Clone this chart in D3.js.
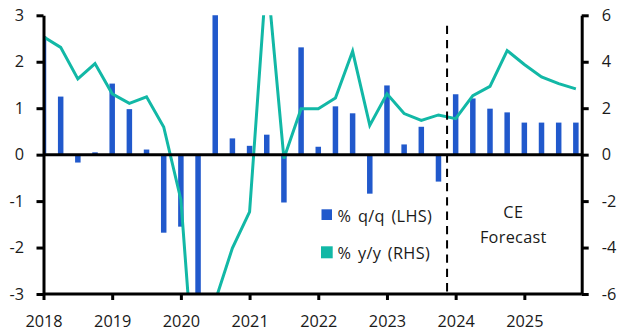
<!DOCTYPE html>
<html>
<head>
<meta charset="utf-8">
<script src="https://cdn.jsdelivr.net/npm/d3@7"></script>
<style>
  html, body { margin: 0; padding: 0; background: #fff; }
  svg { display: block; font-family: "Open Sans", "Noto Sans", sans-serif; }
</style>
</head>
<body>
<svg id="chart" width="623" height="336"></svg>
<script>
// ---- data ----
const quarters = [
  "2018Q1","2018Q2","2018Q3","2018Q4","2019Q1","2019Q2","2019Q3","2019Q4",
  "2020Q1","2020Q2","2020Q3","2020Q4","2021Q1","2021Q2","2021Q3","2021Q4",
  "2022Q1","2022Q2","2022Q3","2022Q4","2023Q1","2023Q2","2023Q3","2023Q4",
  "2024Q1","2024Q2","2024Q3","2024Q4","2025Q1","2025Q2","2025Q3","2025Q4"
];
const qoq = [2.55,1.25,-0.17,0.05,1.53,0.98,0.11,-1.68,
  -1.55,-7.9,5.3,0.35,0.19,0.43,-1.03,2.31,
  0.17,1.04,0.89,-0.84,1.49,0.22,0.60,-0.58,
  1.30,1.21,0.99,0.91,0.69,0.69,0.69,0.69];
const yoy = [5.07,4.62,3.26,3.92,2.62,2.21,2.49,1.19,
  -1.94,-11.8,-6.3,-4.02,-2.46,7.9,-0.17,1.98,
  1.98,2.44,4.45,1.26,2.62,1.77,1.47,1.71,
  1.55,2.54,2.94,4.48,3.88,3.35,3.06,2.83];
const yearTicks = [2018,2019,2020,2021,2022,2023,2024,2025];
const leftTicks = [-3,-2,-1,0,1,2,3];
const rightTicks = [-6,-4,-2,0,2,4,6];
const forecastStart = 2023.875;
const seriesNames = ["% q/q (LHS)", "% y/y (RHS)"];
const forecastLabel = ["CE", "Forecast"];

const blue = "#2159cc", green = "#12b8a6";
const FONT = "\"Open Sans\", \"Noto Sans\", sans-serif";
const FS = "16.3px";

// ---- layout ----
const L = 43.5, R = 581.7, T = 15.3, B = 294;
const svg = d3.select("#chart");
const qNum = s => +s.slice(0,4) + (+s.slice(5) - 1) / 4;
const data = quarters.map((q, i) => ({ t: qNum(q), qq: qoq[i], yy: yoy[i] }));

const x = d3.scaleLinear().domain([2018, 2025.835]).range([L, R]);
const yL = d3.scaleLinear().domain([-3, 3]).range([B, T]);
const yR = d3.scaleLinear().domain([-6, 6]).range([B, T]);

svg.append("defs").append("clipPath").attr("id", "plot")
  .append("rect").attr("x", L).attr("y", T).attr("width", R - L).attr("height", B - T);

const g = svg.append("g").attr("clip-path", "url(#plot)");
const bw = (x(0.25) - x(0)) * 0.32;

g.selectAll("rect.bar").data(data).enter().append("rect")
  .attr("class", "bar")
  .attr("x", d => x(d.t) - bw / 2)
  .attr("width", bw)
  .attr("y", d => yL(Math.max(0, d.qq)))
  .attr("height", d => Math.abs(yL(d.qq) - yL(0)))
  .attr("fill", blue);

g.append("path").datum(data)
  .attr("fill", "none").attr("stroke", green).attr("stroke-width", 3)
  .attr("stroke-linejoin", "miter")
  .attr("d", d3.line().x(d => x(d.t)).y(d => yR(d.yy)));

// zero line
svg.append("line").attr("x1", L).attr("x2", R).attr("y1", yL(0)).attr("y2", yL(0))
  .attr("stroke", "#000").attr("stroke-width", 3);

// forecast divider
svg.append("line").attr("x1", x(forecastStart)).attr("x2", x(forecastStart))
  .attr("y1", 25.7).attr("y2", B)
  .attr("stroke", "#000").attr("stroke-width", 2).attr("stroke-dasharray", "8.3,6");

// axes
function styleAxis(sel) {
  sel.selectAll("path.domain").attr("stroke", "#000").attr("stroke-width", 3);
  sel.selectAll(".tick line").attr("stroke", "#000").attr("stroke-width", 3);
  sel.selectAll(".tick text").attr("fill", "#1a1a1a").style("font-size", FS)
    .style("font-family", FONT);
}
const ax = svg.append("g").attr("transform", `translate(0,${B})`)
  .call(d3.axisBottom(x).tickValues(yearTicks).tickFormat(d3.format("d"))
    .tickSize(6).tickSizeOuter(0).tickPadding(15));
styleAxis(ax);
ax.select("path.domain").attr("d", `M${L},0H${R}`);

const axl = svg.append("g").attr("transform", `translate(${L},0)`)
  .call(d3.axisLeft(yL).tickValues(leftTicks).tickFormat(d => String(d))
    .tickSize(7).tickSizeOuter(0).tickPadding(12.5));
styleAxis(axl);

const axr = svg.append("g").attr("transform", `translate(${R},0)`)
  .call(d3.axisRight(yR).tickValues(rightTicks).tickFormat(d => String(d))
    .tickSize(7).tickSizeOuter(0).tickPadding(13));
styleAxis(axr);

// legend
const leg = svg.append("g");
leg.append("rect").attr("x", 321.5).attr("y", 209.3).attr("width", 10.5).attr("height", 10.7).attr("fill", blue);
leg.append("rect").attr("x", 321).attr("y", 246.3).attr("width", 11.7).attr("height", 12).attr("fill", green);
leg.selectAll("text").data(seriesNames).enter().append("text")
  .attr("x", 337.5).attr("y", (d, i) => i === 0 ? 222.3 : 259.3)
  .attr("fill", "#1a1a1a").style("font-size", FS).style("font-family", FONT)
  .style("letter-spacing", "0.35px").style("word-spacing", "2px").text(d => d);

svg.selectAll("text.fc").data(forecastLabel).enter().append("text")
  .attr("class", "fc").attr("x", 513.3).attr("y", (d, i) => i === 0 ? 217.7 : 242.7)
  .attr("text-anchor", "middle").attr("fill", "#1a1a1a").style("font-size", FS)
  .style("font-family", FONT).style("letter-spacing", "0.3px").text(d => d);
</script>
</body>
</html>
